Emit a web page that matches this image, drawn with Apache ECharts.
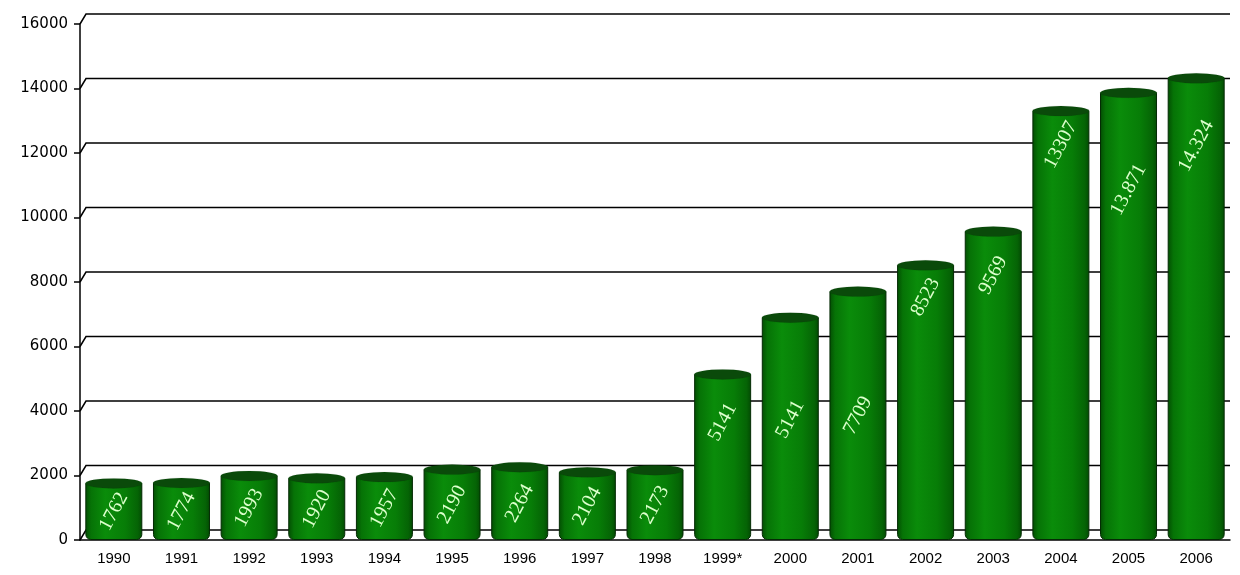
<!DOCTYPE html>
<html>
<head>
<meta charset="utf-8">
<script src="https://cdn.jsdelivr.net/npm/echarts@6/dist/echarts.min.js"></script>
<style>
html,body{margin:0;padding:0;background:#fff;}
#chart{width:1240px;height:575px;}
</style>
</head>
<body>
<div id="chart"></div>
<script>
const categories = ['1990','1991','1992','1993','1994','1995','1996','1997','1998','1999*','2000','2001','2002','2003','2004','2005','2006'];
const values = [1762,1774,1993,1920,1957,2190,2264,2104,2173,5141,6900,7709,8523,9569,13307,13871,14324];
const valueLabels = ['1762','1774','1993','1920','1957','2190','2264','2104','2173','5141','5141','7709','8523','9569','13307','13.871','14.324'];
const yTicks = [0,2000,4000,6000,8000,10000,12000,14000,16000];

// label placement (style only): pixel distance of label centre below bar top
const labelDrop = {9: 48, 10: 102, 12: 32, 13: 44, 14: 34, 15: 97, 16: 68};

const chart = echarts.init(document.getElementById('chart'));
const BW = 57;
const barColor = new echarts.graphic.LinearGradient(0,0,1,0,[
  {offset:0, color:'#034d03'},
  {offset:0.1, color:'#067306'},
  {offset:0.35, color:'#0a8c0a'},
  {offset:0.7, color:'#077d07'},
  {offset:0.92, color:'#056405'},
  {offset:1, color:'#034a03'}
]);

const barData = values.map((v,i)=>{
  const item = {value: v};
  if (labelDrop[i] !== undefined) {
    item.label = {position: ['50%', labelDrop[i]]};
  }
  return item;
});

chart.setOption({
  animation:false,
  grid:{left:80,right:10,top:24,bottom:35},
  xAxis:{
    type:'category',
    data:categories,
    axisLine:{lineStyle:{color:'#000',width:1.5}},
    axisTick:{length:6,lineStyle:{color:'#000',width:1.5},alignWithLabel:false},
    axisLabel:{color:'#000',fontFamily:'Liberation Sans',fontSize:15,margin:11,interval:0}
  },
  yAxis:{
    type:'value',min:0,max:16000,interval:2000,
    axisLine:{show:true,lineStyle:{color:'#000',width:1.5}},
    axisTick:{show:true,length:6,lineStyle:{color:'#000',width:1.5}},
    splitLine:{show:false},
    axisLabel:{color:'#000',fontFamily:'DejaVu Sans',fontSize:15,margin:12,formatter:v=>String(v)}
  },
  series:[
    {
      type:'custom',
      z:1,
      silent:true,
      data:yTicks.map(v=>[0,v]),
      renderItem:function(params, api){
        const cs = params.coordSys;
        const y = api.coord([0, api.value(1)])[1];
        const x0 = cs.x;
        const x1 = cs.x + cs.width;
        return {
          type:'polyline',
          shape:{points:[[x0,y],[x0+6,y-10],[x1,y-10]]},
          style:{stroke:'#000',lineWidth:1.5,fill:null}
        };
      }
    },
    {
      type:'bar',
      z:3,
      barWidth:BW,
      data:barData,
      itemStyle:{color:barColor,borderColor:'#042a04',borderWidth:1,borderRadius:[0,0,5,5]},
      label:{
        show:true,
        position:'inside',
        rotate:62,
        align:'center',
        verticalAlign:'middle',
        fontFamily:'Liberation Serif',
        fontSize:20,
        color:'#dcffcc',
        formatter:p=>valueLabels[p.dataIndex]
      }
    },
    {
      type:'pictorialBar',
      z:4,
      symbol:'circle',
      symbolSize:[BW,10],
      symbolPosition:'end',
      symbolOffset:[0,'-50%'],
      data:values,
      itemStyle:{color:'#0a4a0a',borderColor:'#032503',borderWidth:1},
      silent:true
    }
  ]
});
</script>
</body>
</html>
